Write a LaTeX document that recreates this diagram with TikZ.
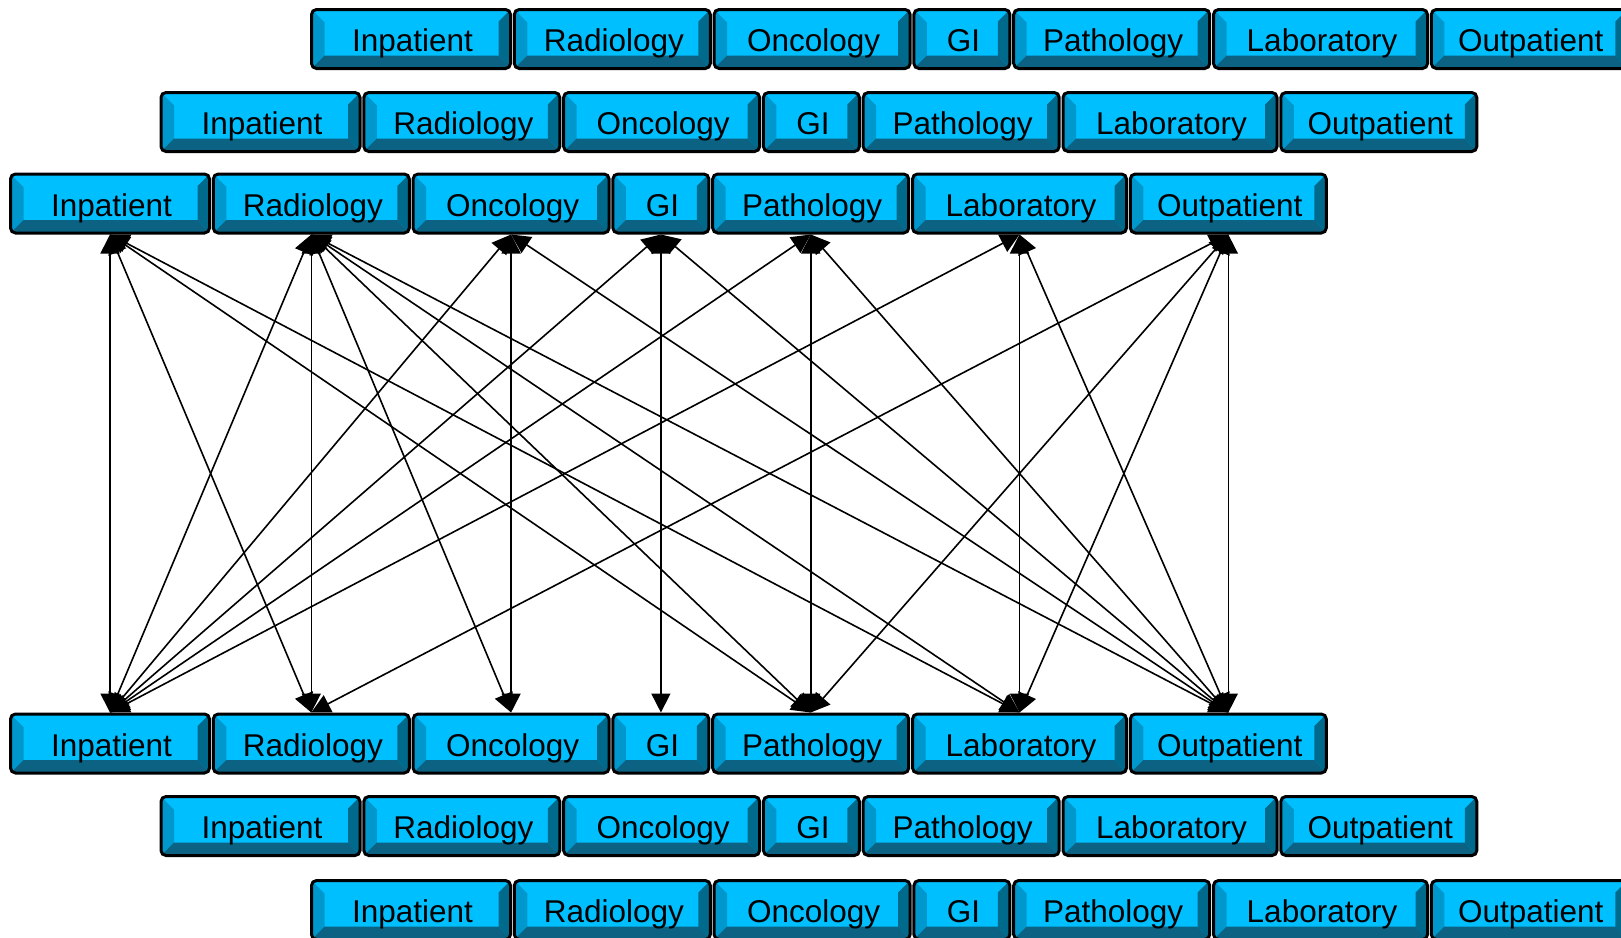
\documentclass[tikz,border=0pt]{standalone}
\usepackage{fontspec}
\setmainfont{Liberation Sans}
\usetikzlibrary{arrows.meta}
\definecolor{face}{RGB}{0,191,255}
\definecolor{bevL}{RGB}{0,152,204}
\definecolor{bevR}{RGB}{0,106,140}
\definecolor{bevB}{RGB}{12,98,130}
\begin{document}
\begin{tikzpicture}[x=1pt,y=-1pt,
  btn/.style={draw=black, line width=3pt, rounded corners=5pt, fill=face,
    minimum height=59pt, inner sep=0pt, text height=25pt, text depth=0pt,
    font=\fontsize{31.5pt}{36pt}\selectfont,
    path picture={
      \fill[bevL, sharp corners] (path picture bounding box.north west) -- ++(13pt,-13pt)
        -- ([shift={(13pt,13pt)}]path picture bounding box.south west)
        -- (path picture bounding box.south west) -- cycle;
      \fill[bevR, sharp corners] (path picture bounding box.north east) -- ++(-12pt,-12pt)
        -- ([shift={(-12pt,13pt)}]path picture bounding box.south east)
        -- (path picture bounding box.south east) -- cycle;
      \fill[bevB, sharp corners] (path picture bounding box.south west)
        -- ([shift={(13pt,13pt)}]path picture bounding box.south west)
        -- ([shift={(-12pt,13pt)}]path picture bounding box.south east)
        -- (path picture bounding box.south east) -- cycle;
    }},
  conn/.style={line width=1.6pt,
    {Triangle[length=19pt,width=19pt]}-{Triangle[length=19pt,width=19pt]}}]
\useasboundingbox (0,0) rectangle (1621,937);
\clip (0,0) rectangle (1621,937);
\foreach \r/\s/\y in {1/310/39, 2/159.5/122, 3/9/203.5, 4/9/743.5, 5/159.5/826, 6/310/910} {
  \foreach \n/\lab/\w/\c in {inp/Inpatient/202/101, rad/Radiology/199/302.3,
      onc/Oncology/199/502.1, gi/GI/99/651.9, pat/Pathology/199/801.7,
      lab/Laboratory/217/1010.5, out/Outpatient/199/1219.3} {
    \node[btn, minimum width={\w-3}] (r\r\n) at ({\s+\c}, \y) {\hspace*{3pt}\lab};
  }
}
\foreach \a/\b in {inp/inp, inp/rad, inp/pat, inp/lab,
    rad/inp, rad/rad, rad/onc, rad/pat, rad/lab, rad/out,
    onc/inp, onc/onc, onc/out,
    gi/inp, gi/gi, gi/out,
    pat/inp, pat/pat, pat/out,
    lab/inp, lab/lab, lab/out,
    out/rad, out/pat, out/lab, out/out}
  \draw[conn] (r3\a.south) -- (r4\b.north);
\end{tikzpicture}
\end{document}
